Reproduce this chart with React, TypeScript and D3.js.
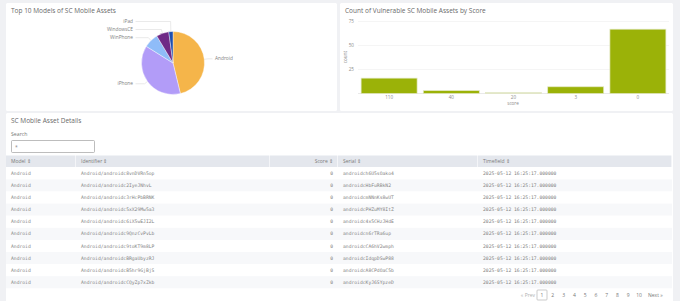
import React, { useEffect, useRef } from 'react';
import * as d3 from 'd3';

// pie: top models
const models = ['Android', 'iPhone', 'WinPhone', 'WindowsCE', 'iPad'];
const modelCounts = [43, 35, 7, 6, 2];
const modelColors = ['#f5b54a', '#b29cf8', '#8fbcf8', '#6f2a86', '#1f4fae'];

// bars: count by score
const scores = ['110', '40', '20', '3', '0'];
const scoreCounts = [16, 3, 1, 7, 67];
const countTicks = [25, 50, 75];

// table
const rowModels = ['Android', 'Android', 'Android', 'Android', 'Android', 'Android', 'Android', 'Android', 'Android', 'Android'];
const rowIdentifiers = [
  'Android/androidc8vnDVRn5op',
  'Android/androidc2IyeJNhvL',
  'Android/androidc3rHcPbBRNK',
  'Android/androidc5xX29Mw5a3',
  'Android/androidc6iX5wEJI2L',
  'Android/androidc9QnzCvPvLb',
  'Android/androidc9toKT9m8LP',
  'Android/androidcBRgaUbyzRJ',
  'Android/androidcB5hr9GjBjS',
  'Android/androidcCQyZp7xZkb',
];
const rowScores = [0, 0, 0, 0, 0, 0, 0, 0, 0, 0];
const rowSerials = [
  'androidch6U5sOako4',
  'androidcHbFuRBkN2',
  'androidcmNNnKs8wUT',
  'androidcPHZuMY8ItZ',
  'androidc4x5CHzJHdE',
  'androidcn6rTRa6up',
  'androidcCA6hV2wmph',
  'androidcIdqpDSwP88',
  'androidcA8CPdOaC5b',
  'androidcKyJ6SYpzeD',
];
const rowTimes = Array(10).fill('2025-05-12 16:25:17.000000');
const pages = ['1', '2', '3', '4', '5', '6', '7', '8', '9', '10'];

const W = 680;
const H = 301;
const SANS = '"Open Sans", "Noto Sans", sans-serif';
const MONO = '"DejaVu Sans Mono", "Liberation Mono", monospace';

const App = () => {
  const svgRef = useRef<SVGSVGElement>(null);

  useEffect(() => {
    const svg = d3.select(svgRef.current);
    svg.selectAll('*').remove();

    svg.append('rect').attr('width', W).attr('height', H).attr('fill', '#f0f1f4');

    // panels
    const panels = [
      { x: 6, y: 3, w: 331, h: 108, title: 'Top 10 Models of SC Mobile Assets' },
      { x: 340, y: 3, w: 333, h: 108, title: 'Count of Vulnerable SC Mobile Assets by Score' },
      { x: 6, y: 113, w: 667, h: 195, title: 'SC Mobile Asset Details' },
    ];
    panels.forEach(p => {
      svg.append('rect').attr('x', p.x).attr('y', p.y).attr('width', p.w).attr('height', p.h)
        .attr('rx', 1.5).attr('fill', '#fff');
      svg.append('text').attr('x', p.x + 5).attr('y', p.y + 9.5)
        .attr('font-family', SANS).attr('font-size', 6.5).attr('fill', '#6a6a6a')
        .text(p.title);
    });

    // ---- pie ----
    const cx = 173, cy = 63, r = 31.5;
    const pie = d3.pie<number>().sort(null).value(d => d);
    const arcGen = d3.arc<d3.PieArcDatum<number>>().innerRadius(0).outerRadius(r);
    const arcs = pie(modelCounts);
    const pg = svg.append('g').attr('transform', `translate(${cx},${cy})`);
    pg.selectAll('path').data(arcs).enter().append('path')
      .attr('d', arcGen)
      .attr('fill', (d, i) => modelColors[i])
      .attr('stroke', '#fff').attr('stroke-width', 0.4);

    const labels = arcs.map((a, i) => {
      const mid = (a.startAngle + a.endAngle) / 2;
      return {
        name: models[i],
        mid,
        right: Math.sin(mid) > 0,
        x0: cx + r * Math.sin(mid),
        y0: cy - r * Math.cos(mid),
        x1: cx + (r + 3.5) * Math.sin(mid),
        y: cy - (r + 4) * Math.cos(mid),
      };
    });
    // stack left labels so they don't overlap
    const left = labels.filter(l => !l.right).sort((a, b) => b.y - a.y);
    for (let i = 1; i < left.length; i++) {
      if (left[i].y > left[i - 1].y - 8) left[i].y = left[i - 1].y - 8;
    }
    labels.forEach(l => {
      const xe = l.right ? cx + r + 8 : cx - r - 6;
      svg.append('polyline')
        .attr('points', `${l.x0},${l.y0} ${l.x1},${l.y} ${xe},${l.y}`)
        .attr('fill', 'none').attr('stroke', '#d4d4d4').attr('stroke-width', 0.5);
      svg.append('text')
        .attr('x', l.right ? xe + 2.5 : xe - 2.5).attr('y', l.y + 1.6)
        .attr('text-anchor', l.right ? 'start' : 'end')
        .attr('font-family', SANS).attr('font-size', 4.8).attr('fill', '#808080')
        .text(l.name);
    });

    // ---- bars ----
    const x = d3.scaleBand().domain(scores).range([358, 669]).paddingInner(0.1).paddingOuter(0.05);
    const y = d3.scaleLinear().domain([0, 75]).range([93.5, 21.5]);
    const bg = svg.append('g');
    bg.selectAll('line.grid').data(countTicks).enter().append('line')
      .attr('x1', 358).attr('x2', 669)
      .attr('y1', d => y(d)).attr('y2', d => y(d))
      .attr('stroke', '#eeeeee').attr('stroke-width', 0.6);
    bg.append('line').attr('x1', 358).attr('x2', 669).attr('y1', y(0)).attr('y2', y(0))
      .attr('stroke', '#dadada').attr('stroke-width', 0.6);
    bg.selectAll('text.yt').data(countTicks).enter().append('text')
      .attr('x', 354).attr('y', d => y(d) + 1.6).attr('text-anchor', 'end')
      .attr('font-family', SANS).attr('font-size', 4.6).attr('fill', '#8a8a8a')
      .text(d => d);
    bg.selectAll('rect.bar').data(scoreCounts).enter().append('rect')
      .attr('x', (d, i) => x(scores[i])!)
      .attr('width', x.bandwidth())
      .attr('y', d => y(d))
      .attr('height', d => y(0) - y(d))
      .attr('fill', (d, i) => scores[i] === '20' ? '#d6d8bd' : '#9bb208')
      .attr('stroke', '#e3e8c4').attr('stroke-width', 0.7);
    bg.selectAll('text.xt').data(scores).enter().append('text')
      .attr('x', d => x(d)! + x.bandwidth() / 2).attr('y', 98.5).attr('text-anchor', 'middle')
      .attr('font-family', SANS).attr('font-size', 4.6).attr('fill', '#8a8a8a')
      .text(d => d);
    bg.append('text').attr('x', 513).attr('y', 105).attr('text-anchor', 'middle')
      .attr('font-family', SANS).attr('font-size', 4.6).attr('fill', '#8a8a8a').text('score');
    bg.append('text').attr('transform', 'translate(347,57) rotate(-90)').attr('text-anchor', 'middle')
      .attr('font-family', SANS).attr('font-size', 4.6).attr('fill', '#8a8a8a').text('count');

    // ---- table ----
    svg.append('text').attr('x', 11).attr('y', 135.5)
      .attr('font-family', SANS).attr('font-size', 5.2).attr('fill', '#777').text('Search');
    svg.append('rect').attr('x', 11.5).attr('y', 140.5).attr('width', 83).attr('height', 12)
      .attr('rx', 1).attr('fill', '#fff').attr('stroke', '#a0a0a0').attr('stroke-width', 0.7);
    svg.append('text').attr('x', 15).attr('y', 148.5)
      .attr('font-family', SANS).attr('font-size', 5).attr('fill', '#888').text('*');

    const cols = [
      { name: 'Model', x0: 6, x1: 76, align: 'start', vals: rowModels },
      { name: 'Identifier', x0: 76, x1: 270, align: 'start', vals: rowIdentifiers },
      { name: 'Score', x0: 270, x1: 338, align: 'end', vals: rowScores.map(String) },
      { name: 'Serial', x0: 338, x1: 478, align: 'start', vals: rowSerials },
      { name: 'Timefield', x0: 478, x1: 672, align: 'start', vals: rowTimes },
    ];
    const headY = 155.5, headH = 11.5, rowH = 12.1;
    const tg = svg.append('g');
    cols.forEach(c => {
      tg.append('rect').attr('x', c.x0).attr('y', headY).attr('width', c.x1 - c.x0 - 0.6).attr('height', headH)
        .attr('fill', '#e4e7ed');
      tg.append('text')
        .attr('x', c.align === 'end' ? c.x1 - 5 : c.x0 + 5).attr('y', headY + 7.6)
        .attr('text-anchor', c.align)
        .attr('font-family', SANS).attr('font-size', 5).attr('fill', '#7a7a7a')
        .text(`${c.name} \u21D5`);
    });
    const rowsTop = headY + headH + 0.3;
    rowModels.forEach((m, i) => {
      tg.append('rect').attr('x', 6).attr('y', rowsTop + i * rowH).attr('width', 666).attr('height', rowH)
        .attr('fill', i % 2 ? '#f7f8fa' : '#fff');
    });
    cols.forEach(c => {
      tg.selectAll(null).data(c.vals).enter().append('text')
        .attr('x', c.align === 'end' ? c.x1 - 5 : c.x0 + 5)
        .attr('y', (d, i) => rowsTop + i * rowH + rowH / 2 + 1.6)
        .attr('text-anchor', c.align)
        .attr('font-family', MONO).attr('font-size', 4.7).attr('fill', '#858585')
        .text(d => d);
    });

    // pagination
    const py = 297;
    const pxScale = d3.scalePoint().domain(pages).range([542, 639]);
    tg.append('text').attr('x', 535).attr('y', py).attr('text-anchor', 'end')
      .attr('font-family', SANS).attr('font-size', 5).attr('fill', '#b0b0b0').text('\u00AB Prev');
    tg.append('rect').attr('x', pxScale('1')! - 5).attr('y', 290).attr('width', 10).attr('height', 10)
      .attr('fill', '#fff').attr('stroke', '#aaa').attr('stroke-width', 0.6).attr('rx', 0.8);
    tg.selectAll('text.pg').data(pages).enter().append('text')
      .attr('x', d => pxScale(d)!).attr('y', py).attr('text-anchor', 'middle')
      .attr('font-family', SANS).attr('font-size', 5).attr('fill', '#777').text(d => d);
    tg.append('text').attr('x', 648).attr('y', py)
      .attr('font-family', SANS).attr('font-size', 5).attr('fill', '#777').text('Next \u00BB');
  }, []);

  return (
    <div style={{ position: 'absolute', left: 0, top: 0 }}>
      <svg ref={svgRef} width={W} height={H} style={{ display: 'block' }}></svg>
    </div>
  );
};

export default App;
